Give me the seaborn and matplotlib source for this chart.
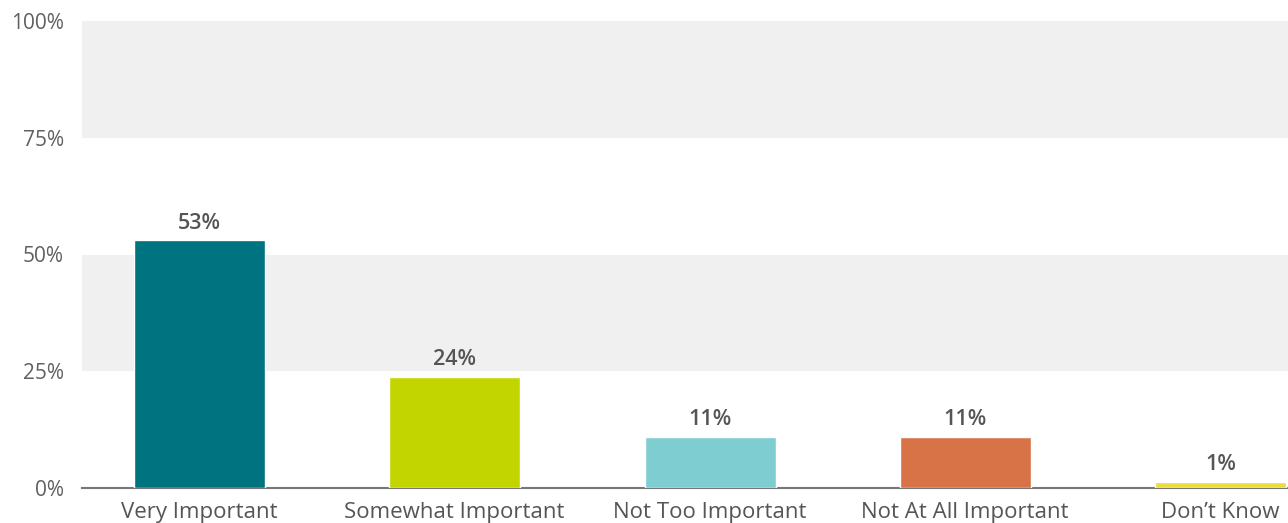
import matplotlib
matplotlib.use("Agg")
import matplotlib.pyplot as plt
import seaborn as sns
import pandas as pd

categories = ["Very Important", "Somewhat Important", "Not Too Important", "Not At All Important", "Don\u2019t Know"]
values = [53, 23.8, 11, 11, 1.3]
value_labels = ["53%", "24%", "11%", "11%", "1%"]
colors = ["#007380", "#C2D500", "#7ECED1", "#D87347", "#EADD3A"]
ytick_vals = [0, 25, 50, 75, 100]
ytick_labels = ["0%", "25%", "50%", "75%", "100%"]

sns.set_style("white")
plt.rcParams["font.family"] = ["Open Sans", "DejaVu Sans"]

df = pd.DataFrame({"cat": categories, "val": values})

fig = plt.figure(figsize=(12.88, 5.23), dpi=100)
ax = fig.add_axes([82/1288, 35/523, 1 - 82/1288, (488-21)/523])

ax.axhspan(25, 50, color="#F0F0F0", zorder=0, lw=0)
ax.axhspan(75, 100, color="#F0F0F0", zorder=0, lw=0)

sns.barplot(data=df, x="cat", y="val", hue="cat", palette=colors, legend=False,
            width=0.513, saturation=1, ax=ax, zorder=2)

ax.set_xlim(-0.460, 4.264)
ax.set_ylim(0, 100)
for s in ["top", "right", "left"]:
    ax.spines[s].set_visible(False)
ax.spines["bottom"].set_color("#777777")
ax.spines["bottom"].set_linewidth(1.5)
ax.spines["bottom"].set_zorder(1)

ax.set_yticks(ytick_vals)
ax.set_yticklabels(ytick_labels, fontsize=15, color="#606060")
ax.tick_params(axis="y", length=0, pad=13)
ax.tick_params(axis="x", length=0, pad=10, labelsize=16, labelcolor="#555555")
ax.set_xlabel("")
ax.set_ylabel("")

for i, (v, lab) in enumerate(zip(values, value_labels)):
    ax.annotate(lab, (i, v), xytext=(0, 5), textcoords="offset points",
                ha="center", va="bottom", fontsize=15.5, fontweight="semibold", color="#555555")

fig.savefig("out.png", dpi=100)
